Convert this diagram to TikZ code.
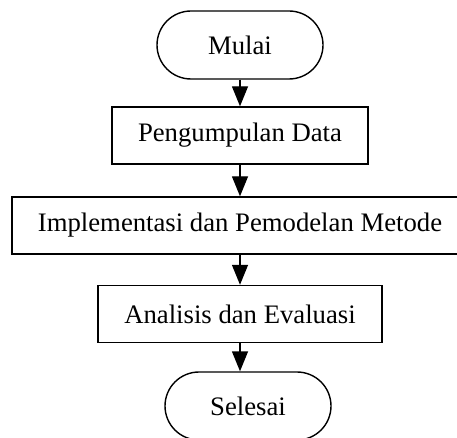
\documentclass[tikz,border=0pt]{standalone}
\usepackage{fontspec}
\setmainfont{Liberation Serif}
\usetikzlibrary{arrows.meta}
\begin{document}
\begin{tikzpicture}[x=1pt,y=-1pt,
  every node/.style={font=\fontsize{26.7}{32}\selectfont, inner sep=0pt},
  term/.style={draw, line width=1.4pt, rounded corners=34pt, minimum width=166pt, minimum height=68pt},
  procbox/.style={draw, line width=1.4pt, minimum height=57pt},
  arr/.style={line width=1.4pt, -{Triangle[length=20pt,width=16pt]}}]
\useasboundingbox (0,0) rectangle (457,438);
\node[term] (mulai) at (240,45) {Mulai};
\node[procbox, minimum width=256pt] (peng) at (240,135.5) {Pengumpulan Data};
\node[procbox, minimum width=456pt] (impl) at (240,225.5) {Implementasi dan Pemodelan Metode};
\node[procbox, minimum width=284pt] (anal) at (240,314) {Analisis dan Evaluasi};
\node[term] (sel) at (248,406) {Selesai};
\draw[arr] (mulai) -- (peng);
\draw[arr] (peng) -- (impl);
\draw[arr] (impl) -- (anal);
\draw[arr] (anal.south) -- (anal.south |- sel.north);
\end{tikzpicture}
\end{document}
